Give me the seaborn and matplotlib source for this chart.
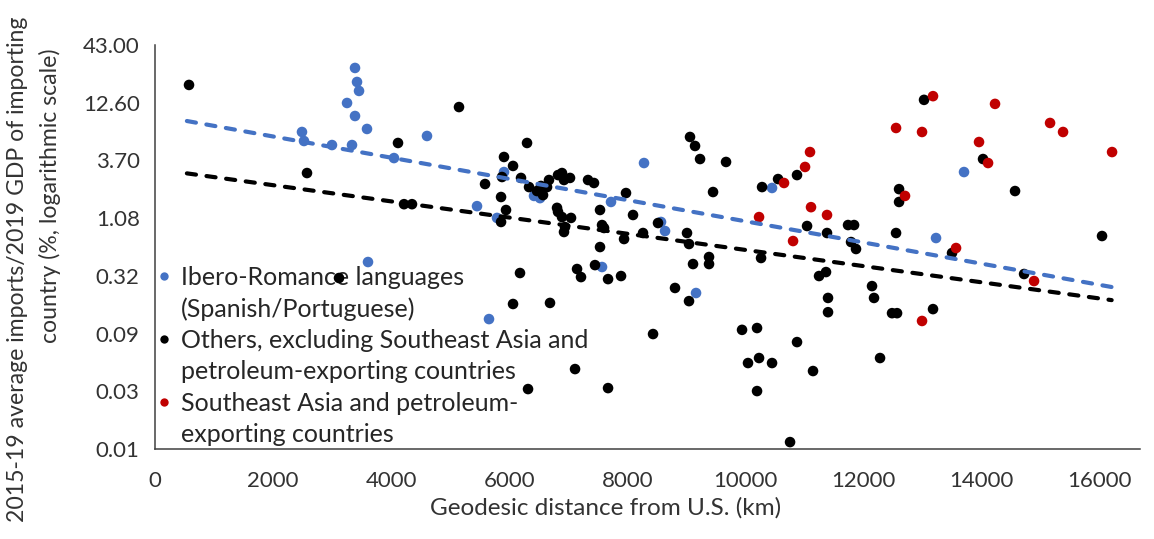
import numpy as np
import pandas as pd
import matplotlib
matplotlib.use("Agg")
import matplotlib.pyplot as plt
import seaborn as sns
from matplotlib.lines import Line2D

# ---------------- data ----------------
ibero_x = [2489, 2523, 2997, 3336, 3252, 3387, 3387, 3421, 3455, 3590, 4047, 4606, 3607,
           5453, 5792, 5910, 6418, 6520, 8281, 7722, 8569, 8637, 10449, 7570, 9162, 5656,
           13700, 13226]
ibero_y = [6.77, 5.59, 5.13, 5.13, 12.54, 9.51, 26.4, 19.6, 16.2, 7.22, 3.89, 6.22, 0.427,
           1.40, 1.09, 2.89, 1.74, 1.66, 3.50, 1.53, 1.00, 0.825, 2.06, 0.384, 0.221, 0.127,
           2.89, 0.711]

others_x = [576, 2574, 4115, 5148, 4217, 4352, 3116, 6317, 5589, 5860, 5876, 5944, 5860, 6300,
            5910, 6063, 6198, 6334, 6469, 6571, 6639, 6672, 6825, 6892, 6926, 7028, 7333, 7434,
            6808, 6825, 6892, 7045, 6943, 6926, 7536, 7570, 7604, 7536, 7976, 8095, 7943, 7451,
            7147, 7214, 7672, 7892, 6181, 6063, 6689, 8264, 8518, 8806, 9043, 9009, 9043, 9111,
            9382, 9382, 9060, 9145, 9230, 9670, 9450, 10280, 10551, 10872, 10263, 8434, 9941,
            10195, 7113, 7672, 10872, 10042, 10229, 10449, 11143, 10195, 10754, 11042, 11380,
            11736, 11838, 11787, 11871, 11245, 11363, 11397, 11397, 12142, 12176, 12481, 12566,
            13175, 12278, 12600, 12600, 12549, 13497, 13023, 14022, 14564, 14717, 16037, 6537]
others_y = [18.4, 2.83, 5.36, 11.5, 1.46, 1.46, 0.304, 0.0287, 2.24, 1.70, 2.60, 1.29, 1.00, 5.36,
            3.98, 3.29, 2.55, 2.10, 1.93, 1.77, 2.10, 2.44, 2.71, 2.83, 2.44, 2.55, 2.44, 2.29,
            1.35, 1.24, 1.11, 1.09, 0.898, 0.808, 1.29, 0.937, 0.880, 0.587, 1.85, 1.16, 0.696,
            0.400, 0.368, 0.310, 0.297, 0.317, 0.338, 0.175, 0.179, 0.791, 0.978, 0.246, 0.186,
            0.791, 0.626, 0.409, 0.475, 0.409, 6.09, 5.03, 3.81, 3.58, 1.89, 2.10, 2.49, 2.71,
            0.465, 0.0924, 0.101, 0.105, 0.0439, 0.0293, 0.0779, 0.0499, 0.0555, 0.0499, 0.0421,
            0.0275, 0.0093, 0.918, 0.791, 0.937, 0.937, 0.653, 0.563, 0.317, 0.345, 0.199, 0.147,
            0.256, 0.199, 0.144, 0.144, 0.157, 0.0555, 2.01, 1.53, 0.791, 0.517, 13.4, 3.81,
            1.93, 0.331, 0.742, 2.15]

sea_x = [11092, 11008, 10652, 11109, 10229, 10805, 11380, 13175, 14225, 12549, 12989, 13954,
         14107, 12701, 13565, 15157, 15377, 16207, 14886, 12989]
sea_y = [4.42, 3.22, 2.29, 1.37, 1.11, 0.667, 1.16, 14.5, 12.3, 7.37, 6.77, 5.47, 3.50, 1.74,
         0.575, 8.20, 6.77, 4.42, 0.285, 0.122]

# exponential trend lines (end points)
trend_x = [540, 16200]
trend_ibero_y = [8.55, 0.251]
trend_others_y = [2.81, 0.190]

series_names = ["Ibero-Romance languages (Spanish/Portuguese)",
                "Others, excluding Southeast Asia and petroleum-exporting countries",
                "Southeast Asia and petroleum-exporting countries"]
legend_lines = ["Ibero-Romance languages", "(Spanish/Portuguese)",
                "Others, excluding Southeast Asia and", "petroleum-exporting countries",
                "Southeast Asia and petroleum-", "exporting countries"]

x_ticks = [0, 2000, 4000, 6000, 8000, 10000, 12000, 14000, 16000]
y_ticks = [0.00803, 0.0274, 0.0933, 0.318, 1.084, 3.698, 12.61, 43.0]
y_tick_labels = ["0.01", "0.03", "0.09", "0.32", "1.08", "3.70", "12.60", "43.00"]

x_title = "Geodesic distance from U.S. (km)"
y_title_1 = "2015-19 average imports/2019 GDP of importing"
y_title_2 = "country (%, logarithmic scale)"

# ---------------- styling ----------------
sns.set_style("white")
plt.rcParams["font.family"] = ["Lato", "DejaVu Sans"]

colors = {series_names[0]: "#4472C4", series_names[1]: "#000000", series_names[2]: "#C00000"}
text_col = "#333333"

df = pd.concat([
    pd.DataFrame({"dist": ibero_x, "val": ibero_y, "group": series_names[0]}),
    pd.DataFrame({"dist": others_x, "val": others_y, "group": series_names[1]}),
    pd.DataFrame({"dist": sea_x, "val": sea_y, "group": series_names[2]}),
], ignore_index=True)

W, H = 1154, 539
fig = plt.figure(figsize=(W / 100, H / 100), dpi=100)
ax = fig.add_axes([155 / W, 1 - 449 / H, (1140 - 155) / W, (449 - 45) / H])

sns.scatterplot(data=df, x="dist", y="val", hue="group", palette=colors,
                s=58, linewidth=0, edgecolor="none", legend=False, ax=ax, zorder=3)

dash = (0, (2.2, 2.55))
ax.plot(trend_x, trend_ibero_y, color="#4472C4", lw=3.0, ls=dash,
        dash_capstyle="round", zorder=4)
ax.plot(trend_x, trend_others_y, color="#000000", lw=3.0, ls=dash,
        dash_capstyle="round", zorder=4)

ax.set_yscale("log")
ax.set_xlim(0, 16680)
ax.set_ylim(y_ticks[0], y_ticks[-1])
ax.set_xticks(x_ticks)
ax.set_xticklabels([str(v) for v in x_ticks])
ax.set_yticks(y_ticks)
ax.set_yticklabels(y_tick_labels)
ax.minorticks_off()
ax.yaxis.set_minor_locator(matplotlib.ticker.NullLocator())
ax.set_xlabel("")
ax.set_ylabel("")
ax.grid(False)

for side in ["top", "right"]:
    ax.spines[side].set_visible(False)
for side in ["left", "bottom"]:
    ax.spines[side].set_color("#404040")
    ax.spines[side].set_linewidth(1.1)
ax.tick_params(axis="both", direction="out", length=6, width=1.1, color="#404040",
               labelsize=16, labelcolor=text_col)
ax.tick_params(axis="y", pad=5)
ax.tick_params(axis="x", pad=10)

fig.text(606 / W, 1 - 508 / H, x_title, ha="center", va="center", fontsize=17.5, color=text_col)
fig.text(18 / W, 1 - 269 / H, y_title_1, rotation=90, ha="center", va="center",
         fontsize=16.6, color=text_col)
fig.text(50 / W, 1 - 196 / H, y_title_2, rotation=90, ha="center", va="center",
         fontsize=16.6, color=text_col)

handles = []
for name in series_names:
    handles.append(Line2D([], [], ls="none", marker="o", markersize=6,
                          markerfacecolor=colors[name], markeredgewidth=0))
    handles.append(Line2D([], [], ls="none", marker=""))
leg = ax.legend(handles, legend_lines, loc="upper left",
                bbox_to_anchor=(156 / W, 1 - 266 / H), bbox_transform=fig.transFigure,
                frameon=False, handlelength=0.6, handletextpad=0.4, borderpad=0,
                borderaxespad=0, labelspacing=0.33, prop={"size": 18}, labelcolor="#262626")
leg.set_zorder(2)

fig.savefig("out.png", dpi=100)
